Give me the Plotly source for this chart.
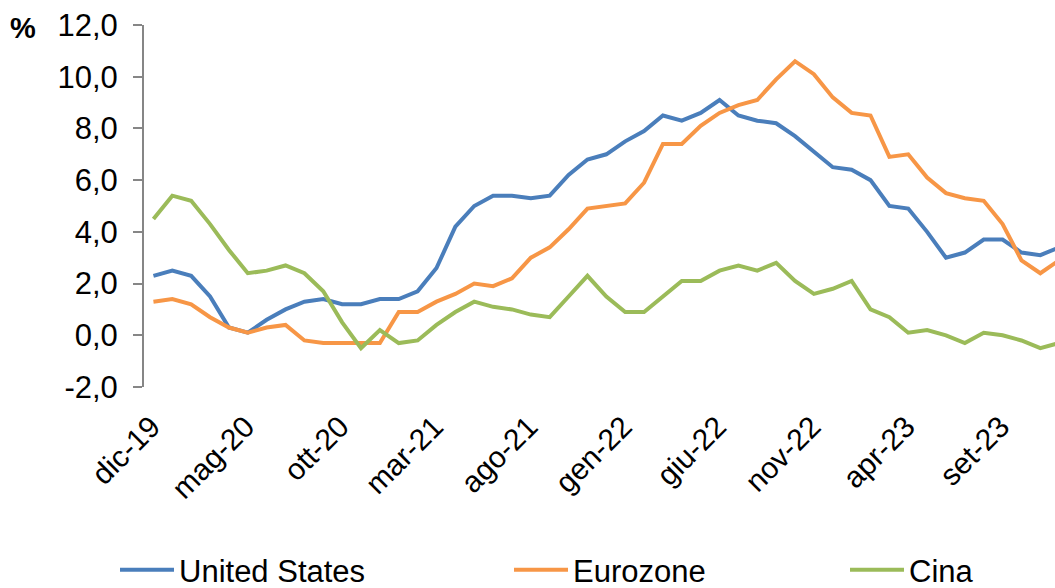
import plotly.graph_objects as go

months = [
    "dic-19", "gen-20", "feb-20", "mar-20", "apr-20", "mag-20", "giu-20", "lug-20", "ago-20", "set-20",
    "ott-20", "nov-20", "dic-20", "gen-21", "feb-21", "mar-21", "apr-21", "mag-21", "giu-21", "lug-21",
    "ago-21", "set-21", "ott-21", "nov-21", "dic-21", "gen-22", "feb-22", "mar-22", "apr-22", "mag-22",
    "giu-22", "lug-22", "ago-22", "set-22", "ott-22", "nov-22", "dic-22", "gen-23", "feb-23", "mar-23",
    "apr-23", "mag-23", "giu-23", "lug-23", "ago-23", "set-23", "ott-23", "nov-23", "dic-23",
]

united_states = [
    2.3, 2.5, 2.3, 1.5, 0.3, 0.1, 0.6, 1.0, 1.3, 1.4,
    1.2, 1.2, 1.4, 1.4, 1.7, 2.6, 4.2, 5.0, 5.4, 5.4,
    5.3, 5.4, 6.2, 6.8, 7.0, 7.5, 7.9, 8.5, 8.3, 8.6,
    9.1, 8.5, 8.3, 8.2, 7.7, 7.1, 6.5, 6.4, 6.0, 5.0,
    4.9, 4.0, 3.0, 3.2, 3.7, 3.7, 3.2, 3.1, 3.4,
]

eurozone = [
    1.3, 1.4, 1.2, 0.7, 0.3, 0.1, 0.3, 0.4, -0.2, -0.3,
    -0.3, -0.3, -0.3, 0.9, 0.9, 1.3, 1.6, 2.0, 1.9, 2.2,
    3.0, 3.4, 4.1, 4.9, 5.0, 5.1, 5.9, 7.4, 7.4, 8.1,
    8.6, 8.9, 9.1, 9.9, 10.6, 10.1, 9.2, 8.6, 8.5, 6.9,
    7.0, 6.1, 5.5, 5.3, 5.2, 4.3, 2.9, 2.4, 2.9,
]

cina = [
    4.5, 5.4, 5.2, 4.3, 3.3, 2.4, 2.5, 2.7, 2.4, 1.7,
    0.5, -0.5, 0.2, -0.3, -0.2, 0.4, 0.9, 1.3, 1.1, 1.0,
    0.8, 0.7, 1.5, 2.3, 1.5, 0.9, 0.9, 1.5, 2.1, 2.1,
    2.5, 2.7, 2.5, 2.8, 2.1, 1.6, 1.8, 2.1, 1.0, 0.7,
    0.1, 0.2, 0.0, -0.3, 0.1, 0.0, -0.2, -0.5, -0.3,
]

series_names = ["United States", "Eurozone", "Cina"]
series_colors = ["#4A7EBB", "#F79646", "#9BBB59"]
y_ticks = [-2, 0, 2, 4, 6, 8, 10, 12]
y_tick_text = [f"{v:.1f}".replace(".", ",") for v in y_ticks]
label_step = 5

FONT = "Liberation Sans, Arial, sans-serif"
AXIS_COLOR = "#868686"

W, H = 1055, 588
L, R, T, B = 144, 0, 25, 201
plot_w = W - L - R
plot_h = H - T - B
cat_px = 18.87
x_right = -0.5 + plot_w / cat_px

fig = go.Figure()
legend_ids = ["legend", "legend2", "legend3"]
for name, vals, col, lg in zip(series_names, [united_states, eurozone, cina], series_colors, legend_ids):
    fig.add_trace(go.Scatter(
        x=months, y=vals, mode="lines", name=name,
        line=dict(color=col, width=4), legend=lg,
    ))

tick_labels = months[::label_step]
boundary_ticks = [i * label_step - 0.5 for i in range(1, len(months) // label_step + 1)]

legend_px = [115, 509, 845]
legend_common = dict(
    orientation="h", yanchor="middle", xanchor="left",
    xref="container", yref="container",
    font=dict(family=FONT, size=31, color="#000000"),
    bgcolor="rgba(0,0,0,0)", borderwidth=0, itemwidth=54,
)
layout_legends = {}
for lg, px in zip(legend_ids, legend_px):
    layout_legends[lg] = dict(legend_common, x=px / W, y=1 - 570 / H)

fig.update_layout(
    width=W, height=H,
    margin=dict(l=L, r=R, t=T, b=B, pad=0, autoexpand=False),
    paper_bgcolor="white", plot_bgcolor="white",
    font=dict(family=FONT, size=30, color="#000000"),
    showlegend=True,
    xaxis=dict(
        type="category", categoryorder="array", categoryarray=months,
        range=[-0.5, x_right], automargin=False,
        tickmode="array", tickvals=tick_labels, ticktext=tick_labels,
        tickangle=-45, ticks="", showline=False, showgrid=False, zeroline=False,
        ticklabelstandoff=15, ticklabelshift=-2,
        tickfont=dict(family=FONT, size=30, color="#000000"),
    ),
    xaxis2=dict(
        overlaying="x", anchor="free", position=2 / 14, automargin=False,
        range=[-0.5, x_right], showgrid=False, zeroline=False,
        showline=True, linecolor=AXIS_COLOR, linewidth=2,
        tickmode="array", tickvals=boundary_ticks, ticks="outside", ticklen=9,
        tickcolor=AXIS_COLOR, tickwidth=2, showticklabels=False,
    ),
    yaxis=dict(
        range=[-2, 12], tickmode="array", tickvals=y_ticks, ticktext=y_tick_text,
        automargin=False,
        showgrid=False, zeroline=False, showline=True, linecolor=AXIS_COLOR, linewidth=2,
        ticks="outside", ticklen=9, tickcolor=AXIS_COLOR, tickwidth=2,
        ticklabelstandoff=9,
        tickfont=dict(family=FONT, size=31, color="#000000"),
    ),
    annotations=[dict(
        text="<b>%</b>", xref="paper", yref="paper",
        x=(23.5 - L) / plot_w, y=(H - B - 28) / plot_h,
        xanchor="center", yanchor="middle", showarrow=False,
        font=dict(family=FONT, size=29, color="#000000"),
    )],
    **layout_legends,
)

fig.write_html(
    "out.html",
    config={"displayModeBar": False},
    post_script="document.body.style.margin='0';document.body.style.overflow='hidden';",
)
